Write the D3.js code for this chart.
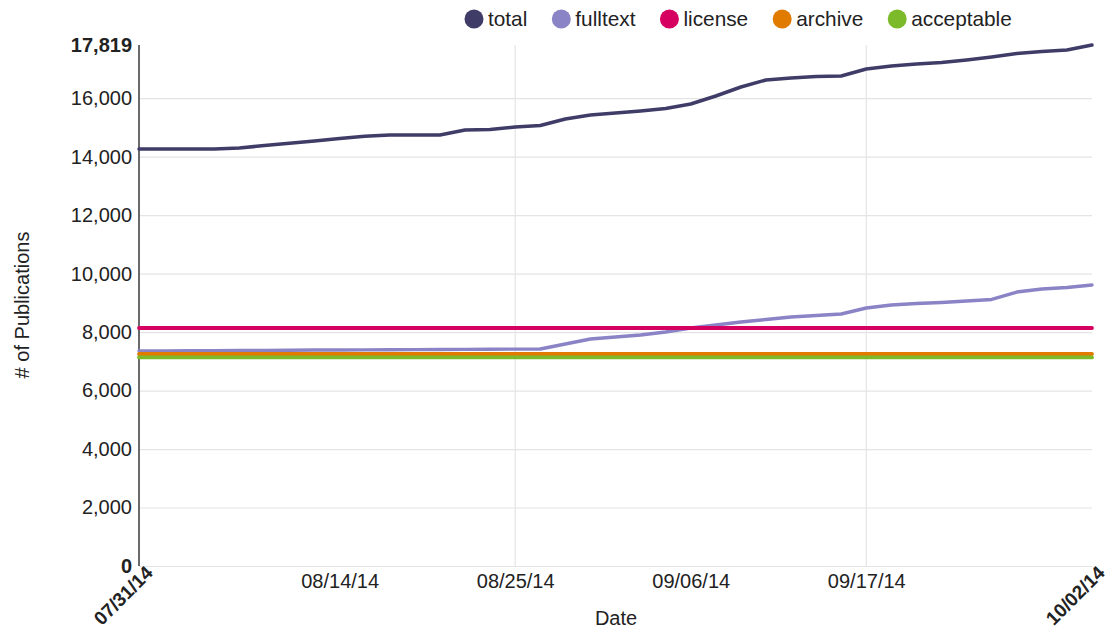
<!DOCTYPE html>
<html>
<head>
<meta charset="utf-8">
<script src="https://cdn.jsdelivr.net/npm/d3@7"></script>
<style>
  html, body { margin: 0; padding: 0; background: #fff; }
  svg { display: block; font-family: "Liberation Sans", Arial, sans-serif; }
</style>
</head>
<body>
<svg id="chart" width="1111" height="631"></svg>
<script>
// ---- data ----
const seriesNames = ["total", "fulltext", "license", "archive", "acceptable"];
const seriesColors = ["#3f3d68", "#8a84c6", "#d5005f", "#e07b00", "#7cba2a"];

const totalValues = [
  14262, 14262, 14262, 14262, 14297, 14379, 14457, 14539, 14618, 14700,
  14741, 14741, 14741, 14912, 14929, 15015, 15066, 15289, 15425, 15494,
  15562, 15648, 15801, 16075, 16383, 16622, 16691, 16742, 16759, 16998,
  17101, 17169, 17221, 17306, 17409, 17529, 17597, 17648, 17819
];
const fulltextValues = [
  7353, 7355, 7360, 7365, 7371, 7376, 7381, 7385, 7388, 7393,
  7398, 7402, 7405, 7410, 7415, 7418, 7422, 7593, 7764, 7832,
  7901, 8003, 8140, 8243, 8345, 8431, 8516, 8568, 8619, 8824,
  8927, 8978, 9012, 9064, 9115, 9371, 9474, 9525, 9611
];
const licenseValues = [
  8140, 8140, 8140, 8140, 8140, 8140, 8140, 8140, 8140, 8140,
  8140, 8140, 8140, 8140, 8140, 8140, 8140, 8140, 8140, 8140,
  8140, 8140, 8140, 8140, 8140, 8140, 8140, 8140, 8140, 8140,
  8140, 8140, 8140, 8140, 8140, 8140, 8140, 8140, 8140
];
const archiveValues = [
  7250, 7250, 7250, 7250, 7250, 7250, 7250, 7250, 7250, 7250,
  7250, 7250, 7250, 7250, 7250, 7250, 7250, 7250, 7250, 7250,
  7250, 7250, 7250, 7250, 7250, 7250, 7250, 7250, 7250, 7250,
  7250, 7250, 7250, 7250, 7250, 7250, 7250, 7250, 7250
];
const acceptableValues = [
  7135, 7135, 7135, 7135, 7135, 7135, 7135, 7135, 7135, 7135,
  7135, 7135, 7135, 7135, 7135, 7135, 7135, 7135, 7135, 7135,
  7135, 7135, 7135, 7135, 7135, 7135, 7135, 7135, 7135, 7135,
  7135, 7135, 7135, 7135, 7135, 7135, 7135, 7135, 7135
];

const xTickIndex = [8, 15, 22, 29];
const xTickLabels = ["08/14/14", "08/25/14", "09/06/14", "09/17/14"];
const xGridIndex = [15, 29];
const xEndLabels = ["07/31/14", "10/02/14"];
const yTicks = [0, 2000, 4000, 6000, 8000, 10000, 12000, 14000, 16000, 17819];
const yMax = 17819;

// ---- layout ----
const svg = d3.select("#chart");
const pLeft = 139, pRight = 1092, pTop = 45, pBottom = 566;
const fs = 20;
const n = totalValues.length;

const x = d3.scaleLinear().domain([0, n - 1]).range([pLeft, pRight]);
const y = d3.scaleLinear().domain([0, yMax]).range([pBottom, pTop]);

// y axis with gridlines
const yAxis = svg.append("g")
  .attr("transform", `translate(${pLeft},0)`)
  .call(d3.axisLeft(y).tickValues(yTicks).tickSize(-(pRight - pLeft)).tickPadding(7).tickFormat(d3.format(",")));
yAxis.select(".domain").remove();
yAxis.selectAll(".tick line").attr("stroke", "#e4e4e4").attr("stroke-width", 1.2);
yAxis.selectAll(".tick").filter(d => d === yMax).select("line").remove();
yAxis.selectAll(".tick text")
  .attr("font-size", fs).attr("fill", "#222")
  .attr("font-family", "'Liberation Sans', Arial, sans-serif")
  .attr("font-weight", d => (d === 0 || d === yMax) ? "bold" : "normal");

// vertical gridlines
svg.append("g").selectAll("line").data(xGridIndex).join("line")
  .attr("x1", d => x(d)).attr("x2", d => x(d))
  .attr("y1", pTop).attr("y2", pBottom)
  .attr("stroke", "#e4e4e4").attr("stroke-width", 1.2);

// x axis
const xAxis = svg.append("g")
  .attr("transform", `translate(0,${pBottom})`)
  .call(d3.axisBottom(x).tickValues(xTickIndex).tickSize(0).tickPadding(8)
    .tickFormat((d, i) => xTickLabels[i]));
xAxis.select(".domain").remove();
xAxis.selectAll(".tick text")
  .attr("font-size", fs).attr("fill", "#222")
  .attr("font-family", "'Liberation Sans', Arial, sans-serif");

// rotated end labels
const endG = svg.append("g");
[[0, xEndLabels[0], 15, 8], [n - 1, xEndLabels[1], 14, 8]].forEach(([idx, lab, dx, dy]) => {
  endG.append("text")
    .attr("transform", `translate(${x(idx) + dx},${pBottom + dy}) rotate(-45)`)
    .attr("text-anchor", "end")
    .attr("font-size", 19).attr("font-weight", "bold").attr("fill", "#222")
    .text(lab);
});

// y axis line
svg.append("line")
  .attr("x1", pLeft).attr("x2", pLeft).attr("y1", pTop).attr("y2", pBottom)
  .attr("stroke", "#444").attr("stroke-width", 1.6);

// lines
const allValues = [totalValues, fulltextValues, licenseValues, archiveValues, acceptableValues];
const widths = [3.5, 3.4, 3.8, 3.8, 3.8];
const line = d3.line().x((d, i) => x(i)).y(d => y(d));
svg.append("g").selectAll("path").data(allValues).join("path")
  .attr("d", d => line(d))
  .attr("fill", "none")
  .attr("stroke", (d, i) => seriesColors[i])
  .attr("stroke-width", (d, i) => widths[i])
  .attr("stroke-linejoin", "round")
  .attr("stroke-linecap", "round");

// axis titles
svg.append("text")
  .attr("x", 616).attr("y", 625)
  .attr("text-anchor", "middle").attr("font-size", fs).attr("fill", "#222")
  .text("Date");
svg.append("text")
  .attr("transform", `translate(29,305) rotate(-90)`)
  .attr("text-anchor", "middle").attr("font-size", fs).attr("fill", "#222")
  .text("# of Publications");

// legend
const legend = svg.append("g");
let cx = 474;
seriesNames.forEach((name, i) => {
  legend.append("circle").attr("cx", cx).attr("cy", 19).attr("r", 9.5)
    .attr("fill", seriesColors[i]);
  const t = legend.append("text").attr("x", cx + 14).attr("y", 19).attr("dy", "0.35em")
    .attr("font-size", 20.8).attr("fill", "#222").text(name);
  cx = cx + 14 + t.node().getComputedTextLength() + 34;
});
</script>
</body>
</html>
